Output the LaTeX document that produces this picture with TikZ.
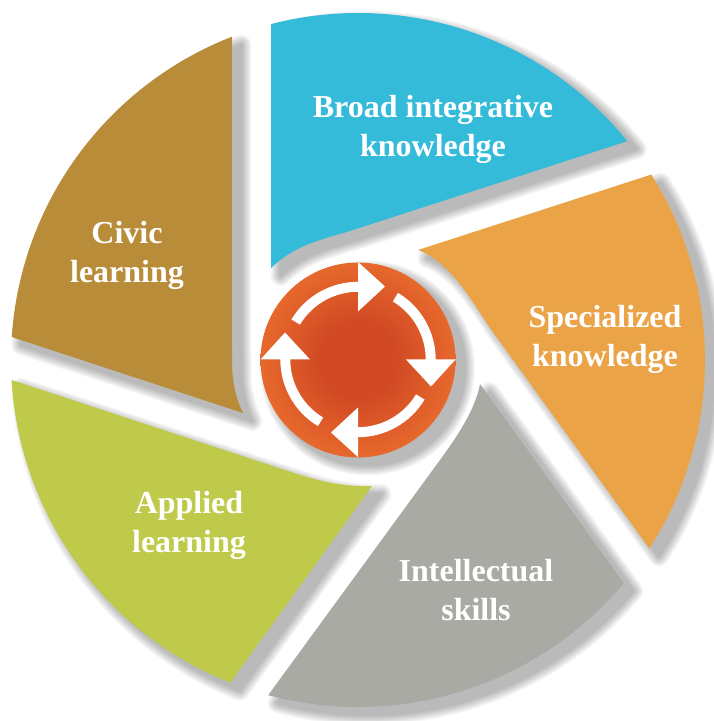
\documentclass[tikz,border=0pt]{standalone}
\usepackage{fontspec}
\setmainfont{Liberation Serif}
\definecolor{cblue}{HTML}{33BBD9}
\definecolor{corange}{HTML}{EAA447}
\definecolor{cgray}{HTML}{A9AAA3}
\definecolor{cgreen}{HTML}{BFC94A}
\definecolor{cbrown}{HTML}{B98C3A}
\definecolor{cdisc}{HTML}{D24A24}
\definecolor{cdiscout}{HTML}{F67F33}
\pgfdeclareradialshading{discshade}{\pgfpointorigin}{color(0bp)=(cdisc); color(10bp)=(cdisc); color(36bp)=(cdiscout); color(100bp)=(cdiscout)}
\tikzset{
  x=1pt,y=1pt,
  label text/.style={text=white,font=\bfseries\fontsize{32}{39}\selectfont,align=center,inner sep=0pt},
  blue sector/.style={insert path={(358,361) ++(104.5:347) arc[start angle=104.5,end angle=39.1,radius=347] -- (350,490) .. controls (320,481) and (295,476) .. (271,453) -- cycle}},
  orange sector/.style={insert path={(358,361) ++(32.3:347) arc[start angle=32.3,end angle=-32.9,radius=347] -- (490,393) .. controls (470,423) and (450,459) .. (418,471) -- cycle}},
  gray sector/.style={insert path={(358,361) ++(-40:347) arc[start angle=-40,end angle=-105,radius=347] -- (440,261) .. controls (462,291) and (476,315) .. (480,337) -- cycle}},
  green sector/.style={insert path={(358,361) ++(-111.6:347) arc[start angle=-111.6,end angle=-176.7,radius=347] -- (285,251) .. controls (315,241) and (340,234) .. (372,235) -- cycle}},
  brown sector/.style={insert path={(358,361) ++(176.2:347) arc[start angle=176.2,end angle=111.3,radius=347] -- (232,361) .. controls (232,340) and (235,325) .. (243,308) -- cycle}},
  disc/.style={insert path={(358,361) circle[radius=97.5]}},
}
\newcommand{\softshadow}[1]{%
  \foreach \w in {2,4,...,20}{
    \begin{scope}[transparency group,opacity=0.03]
    \path[xshift=9.5pt,yshift=-8pt,fill=black,draw=black,line width=\w pt,line join=round,#1];
    \end{scope}
  }%
}
\begin{document}
\begin{tikzpicture}
\useasboundingbox (0,0) rectangle (713,721);
\foreach \s in {blue sector,orange sector,gray sector,green sector,brown sector,disc}{
  \softshadow{\s}
}
\fill[cblue,blue sector];
\fill[corange,orange sector];
\fill[cgray,gray sector];
\fill[cgreen,green sector];
\fill[cbrown,brown sector];
\shade[shading=discshade,disc];
\foreach \r in {0,-90,-180,-270}{
  \begin{scope}[shift={(358,361.5)},rotate=\r]
    \fill[white] (149:67.7) arc[start angle=149,end angle=90,radius=67.7] -- (0,48) -- (27,73) -- (0,97.5) -- (0,77.7) arc[start angle=90,end angle=149,radius=77.7] -- cycle;
  \end{scope}
}
\node[label text] (broad) at (433,591.5) {Broad integrative\\knowledge};
\node[label text] (spec) at (605,381.5) {Specialized\\knowledge};
\node[label text] (intel) at (476,130.5) {Intellectual\\skills};
\node[label text] (appl) at (189,195.5) {Applied\\learning};
\node[label text] (civic) at (127,465.5) {Civic\\learning};
\end{tikzpicture}
\end{document}
